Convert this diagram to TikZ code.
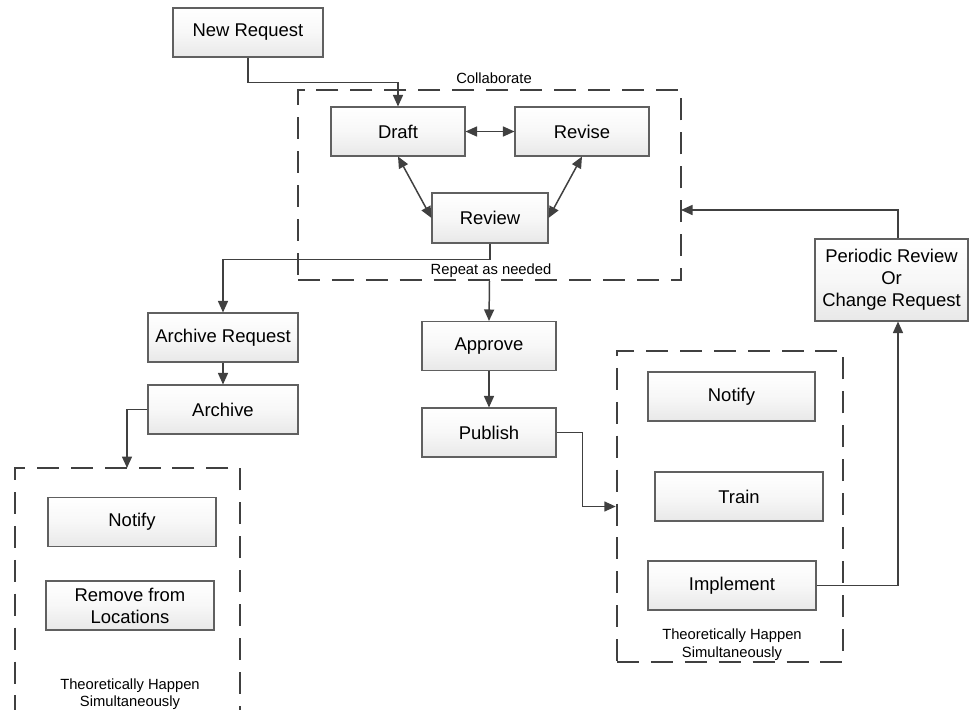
\documentclass[tikz,border=0pt]{standalone}
\usepackage{fontspec}
\setmainfont{Liberation Sans}
\usetikzlibrary{arrows.meta,fit}
\definecolor{edgegray}{HTML}{404040}
\definecolor{boxline}{HTML}{606060}
\begin{document}
\begin{tikzpicture}[x=0.02cm,y=-0.02cm,
box/.style={draw=boxline,line width=0.6pt,top color=white,bottom color=black!9,middle color=black!3,minimum width=#1,minimum height=0.98cm,inner sep=0pt,align=center,font=\fontsize{10.5}{12.5}\selectfont},
group/.style={draw=edgegray,line width=1.4pt,dash pattern=on 12.5pt off 6.8pt,inner sep=0pt},
note/.style={font=\fontsize{8.4}{10}\selectfont,align=center},
arr/.style={draw=edgegray,line width=0.85pt,-{Triangle[length=0.23cm,width=0.2cm]}},
dbl/.style={draw=edgegray,line width=0.85pt,{Triangle[length=0.23cm,width=0.2cm]}-{Triangle[length=0.23cm,width=0.2cm]}}]
\useasboundingbox(0,0)rectangle(971,710);
\clip(0,0)rectangle(971,710);
\node[group,fit={(298,90)(681,280)}](collab){};
\node[group,fit={(617,351)(843,662)}](grpright){};
\node[group,fit={(15,468)(240,740)}](grpleft){};
\node[note]at(494,78){Collaborate};
\node[note]at(491,271){Repeat as needed};
\node[note]at(130,694){Theoretically Happen\\Simultaneously};
\node[note]at(732,644.5){Theoretically Happen\\Simultaneously};
\node[box=3cm](newreq)at(248,32.5){New Request};
\node[box=2.68cm](draft)at(398,131.5){Draft};
\node[box=2.68cm](revise)at(582,131.5){Revise};
\node[box=2.32cm,minimum height=1cm](review)at(490,218){Review};
\node[box=3cm](archreq)at(223,337.5){Archive Request};
\node[box=3cm](archive)at(223,409.5){Archive};
\node[box=3.36cm](notifyl)at(132,522){Notify};
\node[box=3.36cm](remove)at(130,605.5){Remove from\\Locations};
\node[box=2.68cm](approve)at(489,346){Approve};
\node[box=2.68cm](publish)at(489,432.5){Publish};
\node[box=3.34cm](notifyr)at(731.5,396.5){Notify};
\node[box=3.36cm](train)at(739,496.5){Train};
\node[box=3.36cm](implement)at(732,585.5){Implement};
\node[box=3.06cm,minimum height=1.64cm](periodic)at(891.5,280){Periodic Review\\Or\\Change Request};
\coordinate(lefttop)at(127,468);
\coordinate(collabin)at(681,210);
\draw[arr](newreq.south)--++(0,25)-|(draft.north);
\draw[dbl](draft)--(revise);
\draw[dbl](draft.south)--(review.west);
\draw[dbl](revise.south)--(review.east);
\draw[arr](review.south)--++(0,16)-|(archreq.north);
\draw[arr](archreq)--(archive);
\draw[arr](archive.west)-|(lefttop);
\draw[arr](collab.south)--(approve.north);
\draw[arr](approve)--(publish);
\draw[arr](publish.east)--++(26,0)|-(grpright.west);
\draw[arr](implement.east)-|([xshift=0.13cm]periodic.south);
\draw[arr]([xshift=0.13cm]periodic.north)|-(collabin);
\end{tikzpicture}
\end{document}
